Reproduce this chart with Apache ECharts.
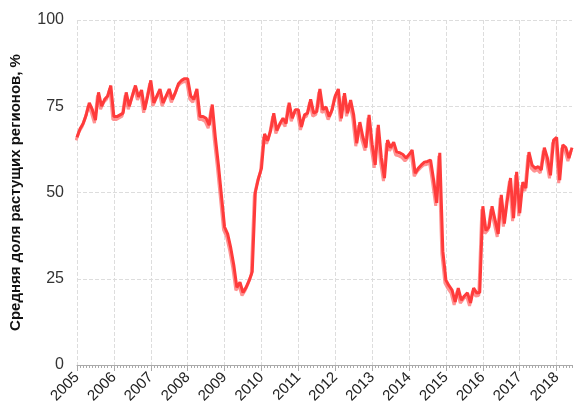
<!DOCTYPE html>
<html>
<head>
<meta charset="utf-8">
<script src="https://cdn.jsdelivr.net/npm/echarts@6/dist/echarts.min.js"></script>
<style>
  html, body { margin: 0; padding: 0; background: #fff; }
  #chart { width: 574px; height: 414px; }
</style>
</head>
<body>
<div id="chart"></div>
<script>
// monthly values, Jan..Dec
var years = [2005, 2006, 2007, 2008, 2009, 2010, 2011, 2012, 2013, 2014, 2015, 2016, 2017, 2018];
var v2005 = [66, 68.5, 70, 72.5, 76, 74, 71, 79, 75, 77, 78, 81];
var v2006 = [72, 72, 72.5, 73, 79, 75, 78, 81, 77.7, 79.7, 74, 78];
var v2007 = [82.5, 76, 78, 80, 76, 78, 80, 77, 79, 81.5, 82.5, 83];
var v2008 = [83, 78, 77, 80, 72, 72, 71.5, 69.5, 75.5, 66, 58, 49];
var v2009 = [40, 38, 34, 29, 22.5, 24, 21, 22.5, 24.5, 27, 50, 54];
var v2010 = [57, 67, 65, 68, 73, 68, 70, 71.5, 70, 76, 71.5, 74];
var v2011 = [74, 69, 72.5, 73, 77, 73, 73.5, 80, 74, 74.8, 72, 74];
var v2012 = [78, 80, 71.5, 78.8, 73, 76.8, 72.5, 64.3, 70.4, 66, 63, 72.5];
var v2013 = [64, 58, 69.6, 60, 54.2, 65.2, 63, 64.6, 61.7, 61.5, 61, 60];
var v2014 = [61, 62.3, 55.6, 57, 58, 58.8, 59, 59.4, 53.6, 47, 61.5, 33];
var v2015 = [24.6, 23, 21.7, 18.3, 22.3, 18.8, 20, 20.9, 18, 22.3, 20.9, 21];
var v2016 = [46, 39, 40, 46, 42, 38, 49.3, 41, 48, 54.2, 42.6, 56];
var v2017 = [44, 53, 51.3, 61.7, 58, 57, 57.5, 56.5, 63, 60, 55, 65.2];
var v2018 = [66, 53.6, 63.8, 63, 60, 63];
var yTicks = [0, 25, 50, 75, 100];

var byYear = [v2005, v2006, v2007, v2008, v2009, v2010, v2011, v2012, v2013, v2014, v2015, v2016, v2017, v2018];
var months = [];
var share = [];
byYear.forEach(function (arr, k) {
  arr.forEach(function (v, m) {
    months.push(years[k] + '-' + (m + 1));
    share.push(v);
  });
});

var isYear = function (i) { return i % 12 === 0; };

var chart = echarts.init(document.getElementById('chart'));
chart.setOption({
  animation: false,
  grid: { left: 73, right: 2, top: 20, bottom: 49 },
  textStyle: { fontFamily: '"Liberation Sans", Arial, sans-serif' },
  xAxis: [
    {
      type: 'category',
      data: months,
      boundaryGap: false,
      axisLine: { lineStyle: { color: '#aaa' } },
      axisTick: { interval: 0, length: 3, lineStyle: { color: '#aaa' } },
      axisLabel: {
        interval: isYear,
        rotate: 45,
        fontSize: 15,
        color: '#222',
        margin: 10,
        formatter: function (v) { return v.split('-')[0]; }
      },
      splitLine: { show: true, interval: isYear, lineStyle: { color: '#ddd', type: 'dashed' } }
    },
    {
      type: 'category',
      data: months,
      boundaryGap: false,
      position: 'bottom',
      axisLine: { show: false },
      axisTick: { interval: isYear, length: 6, lineStyle: { color: '#aaa' } },
      axisLabel: { show: false },
      splitLine: { show: false }
    }
  ],
  yAxis: {
    type: 'value',
    min: yTicks[0],
    max: yTicks[yTicks.length - 1],
    interval: 25,
    name: 'Средняя доля растущих регионов, %',
    nameLocation: 'middle',
    nameGap: 54,
    nameTextStyle: { fontSize: 15, fontWeight: 'bold', color: '#111' },
    axisLine: { show: false },
    axisTick: { show: false },
    axisLabel: { fontSize: 16, color: '#333', margin: 13 },
    splitLine: { lineStyle: { color: '#ddd', type: 'dashed' } }
  },
  series: [
    {
      type: 'line',
      data: share,
      showSymbol: false,
      lineStyle: {
        color: '#ff3b3b',
        width: 3,
        shadowColor: 'rgba(255,110,110,0.75)',
        shadowBlur: 0,
        shadowOffsetY: 3,
        shadowOffsetX: -1
      }
    }
  ]
});
</script>
</body>
</html>
